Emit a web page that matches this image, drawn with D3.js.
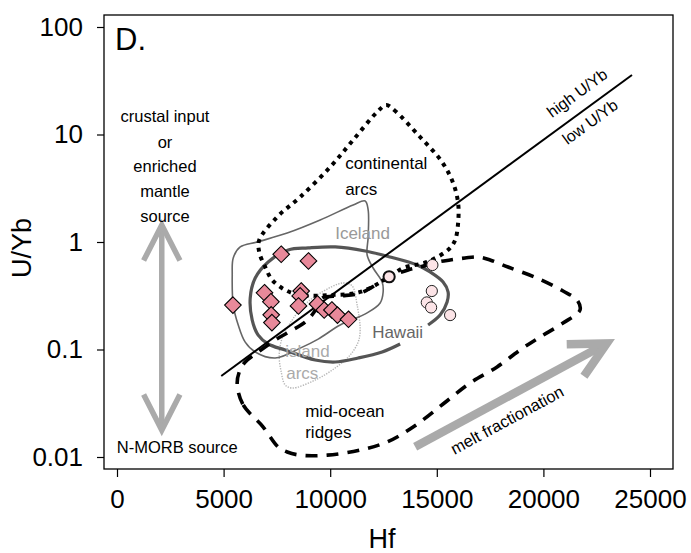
<!DOCTYPE html>
<html><head><meta charset="utf-8">
<script src="https://cdn.jsdelivr.net/npm/d3@7"></script>
<style>body{margin:0;background:#fff} text{font-family:"Liberation Sans",Arial,Helvetica,sans-serif}</style>
</head><body><svg id="c" width="691" height="553"></svg>
<script>
// ---- data ----
const xTicks = [0, 5000, 10000, 15000, 20000, 25000];
const yTicks = [0.01, 0.1, 1, 10, 100];
const yTickLabels = ["0.01", "0.1", "1", "10", "100"];

const diamondHf  = [5437, 7702, 8981, 6919, 7219, 7233, 7266, 8639, 8592, 8512, 9403, 9717, 10078, 10341, 10857];
const diamondUYb = [0.259, 0.769, 0.666, 0.337, 0.278, 0.210, 0.178, 0.350, 0.315, 0.254, 0.265, 0.233, 0.233, 0.209, 0.191];

const circleHf  = [12764, 14794, 14766, 14531, 14733, 15624];
const circleUYb = [0.475, 0.611, 0.350, 0.274, 0.246, 0.209];

const continentalArcs = [[12623,18.8],[12998,16.9],[14217,9.48],[15248,5.55],[15764,3.54],[15999,2.31],[15999,1.50],[15858,1.04],[15577,0.861],[14545,0.652],[13420,0.573],[12764,0.472],[11405,0.343],[9998,0.321],[8592,0.321],[7889,0.358],[7280,0.443],[6952,0.585],[6670,0.807],[6670,1.04],[7514,1.71],[8592,2.62],[9998,4.98],[11077,8.89],[12202,16.2]];

const iceland = [[11639,2.41],[11780,1.985],[11780,1.11],[11733,0.757],[12014,0.573],[12436,0.424],[12483,0.343],[12342,0.271],[11733,0.219],[10467,0.169],[9436,0.125],[8592,0.103],[7420,0.0833],[6483,0.0948],[6014,0.117],[5686,0.169],[5452,0.259],[5405,0.493],[5452,0.710],[5780,0.899],[6577,1.0],[7983,1.21],[9530,1.60],[11077,2.21]];

const hawaii = [[14592,0.169],[15154,0.209],[15483,0.277],[15530,0.343],[15295,0.424],[14686,0.526],[14076,0.611],[12811,0.725],[11639,0.825],[10233,0.899],[8967,0.880],[8030,0.843],[7092,0.652],[6483,0.462],[6248,0.301],[6342,0.188],[6623,0.136],[7092,0.1125],[7889,0.0989],[9295,0.0799],[10233,0.0765],[11311,0.0833],[12436,0.0948],[13280,0.1125]];

const islandArcs = [[9530,0.335],[10608,0.416],[11030,0.390],[11264,0.259],[11405,0.152],[11311,0.117],[10936,0.0889],[10233,0.0673],[9295,0.0520],[8217,0.0438],[7889,0.0468],[7702,0.0618],[7608,0.0889],[7748,0.128],[8217,0.188],[8733,0.254]];

const midOceanRidges = [[5639,0.0468],[5920,0.0305],[6858,0.0190],[7561,0.01239],[7983,0.01113],[8592,0.0104],[9858,0.0104],[11405,0.0116],[12670,0.0138],[13889,0.0190],[15295,0.0311],[16561,0.0488],[17827,0.0688],[18905,0.0989],[19842,0.1307],[20920,0.176],[21717,0.233],[21576,0.2887],[20920,0.350],[19702,0.462],[18342,0.585],[17498,0.680],[16936,0.725],[16327,0.710],[15624,0.680],[15061,0.652],[14217,0.585],[13655,0.549],[12764,0.472],[11405,0.335],[10467,0.315],[9623,0.301],[9248,0.223],[8827,0.180],[7983,0.1424],[7420,0.1226],[6623,0.0948],[6014,0.0765],[5733,0.0618]];

const divideLine = [[4890, 0.0567], [24155, 35.8]];
const sourceArrow = [[2100, 1.44], [2100, 0.0178]];
const meltArrow = [[13985, 0.01247], [22969, 0.114]];

const sideLabels = ["crustal input", "or", "enriched", "mantle", "source"];
const sideLabelUYb = [14.9, 8.51, 5.09, 2.98, 1.746];
const sideLabelHf = 2250;

// ---- layout ----
const svg = d3.select("#c");
const box = {l: 104, r: 673, t: 15, b: 469};
const x = d3.scaleLinear().domain([0, 25000]).range([117, 650]);
const y = d3.scaleLog().domain([0.01, 100]).range([457, 27]);

// axes
const xAxis = d3.axisBottom(x).tickValues(xTicks).tickFormat(d3.format("d")).tickSize(8).tickPadding(13);
const gx = svg.append("g").attr("transform", `translate(0,${box.b})`).call(xAxis);
gx.select(".domain").remove();
gx.selectAll("text").attr("font-size", 26).attr("fill", "#000").style("font-family", '"Liberation Sans",Arial,sans-serif');
gx.selectAll("line").attr("stroke", "#000").attr("stroke-width", 1.2);

const yAxis = d3.axisLeft(y).tickValues(yTicks).tickFormat((d, i) => yTickLabels[i]).tickSize(7).tickPadding(14);
const gy = svg.append("g").attr("transform", `translate(${box.l},0)`).call(yAxis);
gy.select(".domain").remove();
gy.selectAll("text").attr("font-size", 26).attr("fill", "#000").style("font-family", '"Liberation Sans",Arial,sans-serif');
gy.selectAll("line").attr("stroke", "#000").attr("stroke-width", 1.2);

svg.append("text").attr("x", 382).attr("y", 548).attr("text-anchor", "middle").attr("font-size", 27).text("Hf");
svg.append("text").attr("transform", "translate(31,248) rotate(-90)").attr("text-anchor", "middle").attr("font-size", 27).text("U/Yb");

// plot group clipped
svg.append("clipPath").attr("id", "clip").append("rect")
  .attr("x", box.l).attr("y", box.t).attr("width", box.r - box.l).attr("height", box.b - box.t);
const g = svg.append("g").attr("clip-path", "url(#clip)");

const lineC = d3.line().x(d => x(d[0])).y(d => y(d[1])).curve(d3.curveCatmullRomClosed.alpha(0.5));
const lineO = d3.line().x(d => x(d[0])).y(d => y(d[1])).curve(d3.curveCatmullRom.alpha(0.5));

// contours
g.append("path").attr("d", lineC(islandArcs)).attr("fill", "none").attr("stroke", "#b5b5b5").attr("stroke-width", 1.4).attr("stroke-dasharray", "1.3,1.3");
g.append("path").attr("d", lineC(iceland)).attr("fill", "none").attr("stroke", "#666").attr("stroke-width", 1.6);
g.append("path").attr("d", lineO(hawaii)).attr("fill", "none").attr("stroke", "#555").attr("stroke-width", 3.2);
g.append("path").attr("d", lineC(midOceanRidges)).attr("fill", "none").attr("stroke", "#000").attr("stroke-width", 3.6).attr("stroke-dasharray", "12,9");
g.append("path").attr("d", lineC(continentalArcs)).attr("fill", "none").attr("stroke", "#000").attr("stroke-width", 4).attr("stroke-dasharray", "4,5");

// divide line
g.append("line").attr("x1", x(divideLine[0][0])).attr("y1", y(divideLine[0][1]))
  .attr("x2", x(divideLine[1][0])).attr("y2", y(divideLine[1][1])).attr("stroke", "#000").attr("stroke-width", 2);
const ang = Math.atan2(y(divideLine[1][1]) - y(divideLine[0][1]), x(divideLine[1][0]) - x(divideLine[0][0])) * 180 / Math.PI;
g.append("text").attr("transform", `translate(${x(21577)},${y(24.3)}) rotate(${ang})`).attr("text-anchor", "middle").attr("dy", "0.35em").attr("font-size", 16).text("high U/Yb");
g.append("text").attr("transform", `translate(${x(22186)},${y(13.1)}) rotate(${ang})`).attr("text-anchor", "middle").attr("dy", "0.35em").attr("font-size", 16).text("low U/Yb");

// arrows
function arrow(p0, p1, w, heads) {
  const x0 = x(p0[0]), y0 = y(p0[1]), x1 = x(p1[0]), y1 = y(p1[1]);
  const a = Math.atan2(y1 - y0, x1 - x0), L = 40, h = 27 * Math.PI / 180;
  g.append("line").attr("x1", x0).attr("y1", y0).attr("x2", x1).attr("y2", y1)
    .attr("stroke", "#aaa").attr("stroke-width", w);
  const head = (tx, ty, dir) => {
    const p = [[tx - L * Math.cos(dir - h), ty - L * Math.sin(dir - h)], [tx, ty], [tx - L * Math.cos(dir + h), ty - L * Math.sin(dir + h)]];
    g.append("path").attr("d", d3.line()(p)).attr("fill", "none").attr("stroke", "#aaa").attr("stroke-width", w).attr("stroke-linejoin", "miter").attr("stroke-miterlimit", 10);
  };
  head(x1, y1, a);
  if (heads === 2) head(x0, y0, a + Math.PI);
  return a;
}
arrow(sourceArrow[1], sourceArrow[0], 5.5, 2);
const ma = arrow(meltArrow[0], meltArrow[1], 8.5, 1) * 180 / Math.PI;
g.append("text").attr("transform", `translate(${x(18295)},${y(0.0221)}) rotate(${ma})`).attr("text-anchor", "middle").attr("dy", "0.35em").attr("font-size", 16.5).text("melt fractionation");

// points
const diamondPath = "M0,-8.3L8.3,0L0,8.3L-8.3,0Z";
g.selectAll(".dm").data(diamondHf.map((h, i) => [h, diamondUYb[i]])).enter().append("path")
  .attr("d", diamondPath).attr("transform", d => `translate(${x(d[0])},${y(d[1])})`)
  .attr("fill", "#E8899A").attr("stroke", "#000").attr("stroke-width", 1.1);
g.selectAll(".cc").data(circleHf.map((h, i) => [h, circleUYb[i]])).enter().append("circle")
  .attr("cx", d => x(d[0])).attr("cy", d => y(d[1])).attr("r", 5.6)
  .attr("fill", "#FCE4E7").attr("stroke", (d, i) => i === 0 ? "#111" : "#222").attr("stroke-width", (d, i) => i === 0 ? 2 : 1);

// labels
const T = (hf, v, s, color, size, anchor) => g.append("text").attr("x", x(hf)).attr("y", y(v)).attr("dy", "0.35em")
  .attr("text-anchor", anchor || "start").attr("font-size", size || 17).attr("fill", color || "#000").text(s);
sideLabels.forEach((s, i) => T(sideLabelHf, sideLabelUYb[i], s, "#000", 16.5, "middle"));
T(2827, 0.01239, "N-MORB source", "#000", 16.5, "middle");
T(10702, 5.43, "continental");
T(10702, 3.11, "arcs");
T(10233, 1.21, "Iceland", "#999");
T(11967, 0.1455, "Hawaii", "#666");
T(7889, 0.0969, "island", "#aaa");
T(7936, 0.0605, "arcs", "#aaa");
T(8827, 0.0268, "mid-ocean");
T(8827, 0.0171, "ridges");

svg.append("text").attr("x", 115).attr("y", 50).attr("font-size", 31).text("D.");

// box
svg.append("rect").attr("x", box.l).attr("y", box.t).attr("width", box.r - box.l).attr("height", box.b - box.t)
  .attr("fill", "none").attr("stroke", "#000").attr("stroke-width", 1.3);
</script></body></html>
